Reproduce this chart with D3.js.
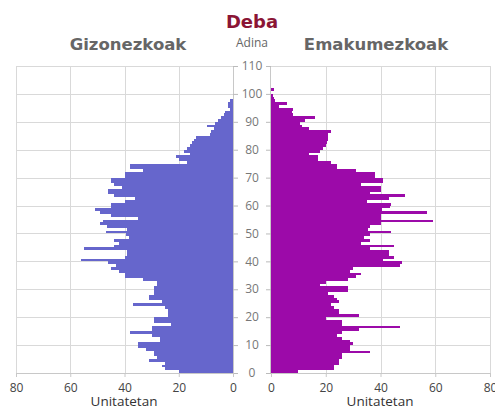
<!DOCTYPE html>
<html>
<head>
<meta charset="utf-8">
<script src="https://cdnjs.cloudflare.com/ajax/libs/d3/7.8.5/d3.min.js"></script>
<style>
  body { margin: 0; background: #fff; }
  svg text { font-family: "Open Sans", sans-serif; }
</style>
</head>
<body>
<div class="chart"></div>
<script>
// population by single year of age (0..n)
var maleValues = [20, 25, 26, 25, 31, 28, 29, 29, 32, 35,
  35, 27, 27, 30, 38, 30, 30, 23, 29, 29,
  24, 24, 24, 25, 37, 26, 31, 31, 29, 29,
  29, 28, 28, 33, 40, 40, 42, 45, 43, 46,
  56, 40, 39, 39, 55, 44, 42, 44, 38.5, 39.5,
  47, 39, 46.5, 49, 48, 35, 45, 49, 51, 45,
  45, 40, 36, 44, 46, 46, 41, 44, 45, 45,
  40, 40, 33, 38, 38, 17, 20, 21, 16, 18,
  17, 16, 15, 14.5, 13.5, 8.5, 8, 7, 9.7, 6.5,
  5.5, 4.5, 3.5, 3, 1.2, 1.7, 1.7, 1];

var femaleValues = [10, 23, 23, 25, 25, 26, 26, 36, 29, 29,
  30, 29, 26, 24, 26, 32, 47, 26, 26, 20,
  32, 25, 25, 23, 22, 25, 24, 23, 21, 28,
  28, 18, 20, 28, 31, 33, 29, 30, 47, 48,
  41, 45, 43, 43, 36, 45, 33, 36, 34, 36,
  44, 35.6, 36, 40, 59, 40, 40, 57, 40.5, 43.5,
  44, 35, 43, 49, 36, 40, 40, 33, 41, 41,
  38, 38, 31, 24, 24, 22, 17, 17, 14, 18,
  19, 20, 20.5, 21, 21, 21, 22, 14, 11.5, 10.5,
  12.5, 16, 8, 7.5, 8, 3, 6, 1.5, 1, 0.7,
  0, 1.2];

var ageTicks = [0, 10, 20, 30, 40, 50, 60, 70, 80, 90, 100, 110];
var valueTicks = [0, 20, 40, 60, 80];

var svgWidth = 495;
var svgHeight = 410;

var svg = d3.select(".chart")
  .append("svg")
  .attr("width", svgWidth)
  .attr("height", svgHeight);

// scales: one y for ages, mirrored x for the two halves
var yScale = d3.scaleLinear().domain([0, 110]).range([373, 66]);
var xLeft = d3.scaleLinear().domain([0, 80]).range([233, 16]);
var xRight = d3.scaleLinear().domain([0, 80]).range([271, 490]);

var gridColor = "#d9d9d9";

// horizontal grid lines, both halves
[[16, 233], [271, 490]].forEach(function(span) {
  svg.append("g")
    .selectAll("line")
    .data(ageTicks)
    .enter()
    .append("line")
    .attr("x1", span[0])
    .attr("x2", span[1])
    .attr("y1", function(d) { return Math.round(yScale(d)) + 0.5; })
    .attr("y2", function(d) { return Math.round(yScale(d)) + 0.5; })
    .attr("stroke", gridColor)
    .attr("stroke-width", 1);
});

// vertical grid lines
[xLeft, xRight].forEach(function(sc) {
  svg.append("g")
    .selectAll("line")
    .data(valueTicks.slice(1))
    .enter()
    .append("line")
    .attr("x1", function(d) { return Math.round(sc(d)) + 0.5; })
    .attr("x2", function(d) { return Math.round(sc(d)) + 0.5; })
    .attr("y1", yScale(110))
    .attr("y2", yScale(0))
    .attr("stroke", gridColor);
});

// bars
var bandH = yScale(0) - yScale(1);

svg.append("g")
  .selectAll("rect")
  .data(maleValues)
  .enter()
  .append("rect")
  .attr("x", function(d) { return xLeft(d); })
  .attr("y", function(d, i) { return yScale(i + 1); })
  .attr("width", function(d) { return xLeft(0) - xLeft(d); })
  .attr("height", bandH)
  .attr("fill", "#6666cc")
  .attr("shape-rendering", "crispEdges");

svg.append("g")
  .selectAll("rect")
  .data(femaleValues)
  .enter()
  .append("rect")
  .attr("x", xRight(0))
  .attr("y", function(d, i) { return yScale(i + 1); })
  .attr("width", function(d) { return xRight(d) - xRight(0); })
  .attr("height", bandH)
  .attr("fill", "#9c0aa9")
  .attr("shape-rendering", "crispEdges");

// zero axis lines
svg.append("line")
  .attr("x1", 233.5).attr("x2", 233.5)
  .attr("y1", yScale(110)).attr("y2", yScale(0))
  .attr("stroke", "#c8c8c8");
svg.append("line")
  .attr("x1", 270.5).attr("x2", 270.5)
  .attr("y1", yScale(110)).attr("y2", yScale(0))
  .attr("stroke", "#c8c8c8");

// age axis in the middle, ticks on both sides
var ageAxisL = svg.append("g")
  .attr("transform", "translate(233,0)")
  .call(d3.axisRight(yScale).tickValues(ageTicks).tickSize(5).tickFormat(""));
var ageAxisR = svg.append("g")
  .attr("transform", "translate(271,0)")
  .call(d3.axisLeft(yScale).tickValues(ageTicks).tickSize(5).tickFormat(""));
[ageAxisL, ageAxisR].forEach(function(a) {
  a.select(".domain").remove();
  a.selectAll("line").attr("stroke", "#bbb");
});

svg.append("g")
  .selectAll("text")
  .data(ageTicks)
  .enter()
  .append("text")
  .attr("x", 252)
  .attr("y", function(d) { return yScale(d); })
  .attr("dy", "0.35em")
  .style("text-anchor", "middle")
  .style("font-size", "12px")
  .style("fill", "#777")
  .text(function(d) { return d; });

// bottom value axes
var bottomLeft = svg.append("g")
  .attr("transform", "translate(0,373)")
  .call(d3.axisBottom(xLeft).tickValues(valueTicks).tickSize(4));
var bottomRight = svg.append("g")
  .attr("transform", "translate(0,373)")
  .call(d3.axisBottom(xRight).tickValues(valueTicks).tickSize(4));
[bottomLeft, bottomRight].forEach(function(a) {
  a.select(".domain").attr("stroke", "#c8c8c8");
  a.selectAll("line").attr("stroke", "#c8c8c8");
  a.selectAll("text")
    .style("font-size", "12px")
    .style("fill", "#444")
    .attr("y", 10)
    .style("font-family", "'Open Sans', sans-serif");
});

// axis titles
svg.append("text")
  .attr("x", 124).attr("y", 406)
  .style("text-anchor", "middle")
  .style("font-size", "13.5px")
  .style("fill", "#333")
  .text("Unitatetan");
svg.append("text")
  .attr("x", 380).attr("y", 406)
  .style("text-anchor", "middle")
  .style("font-size", "13.5px")
  .style("fill", "#333")
  .text("Unitatetan");

// titles
svg.append("text")
  .attr("x", 252).attr("y", 28)
  .style("text-anchor", "middle")
  .style("font-family", "'DejaVu Sans', sans-serif")
  .style("font-weight", "bold")
  .style("font-size", "18px")
  .style("fill", "#8b1535")
  .text("Deba");

svg.append("text")
  .attr("x", 128).attr("y", 50)
  .style("text-anchor", "middle")
  .style("font-family", "'DejaVu Sans', sans-serif")
  .style("font-weight", "bold")
  .style("font-size", "16.5px")
  .style("fill", "#666")
  .text("Gizonezkoak");

svg.append("text")
  .attr("x", 376).attr("y", 50)
  .style("text-anchor", "middle")
  .style("font-family", "'DejaVu Sans', sans-serif")
  .style("font-weight", "bold")
  .style("font-size", "16.5px")
  .style("fill", "#666")
  .text("Emakumezkoak");

svg.append("text")
  .attr("x", 252).attr("y", 47)
  .style("text-anchor", "middle")
  .style("font-size", "12px")
  .style("fill", "#666")
  .text("Adina");
</script>
</body>
</html>
